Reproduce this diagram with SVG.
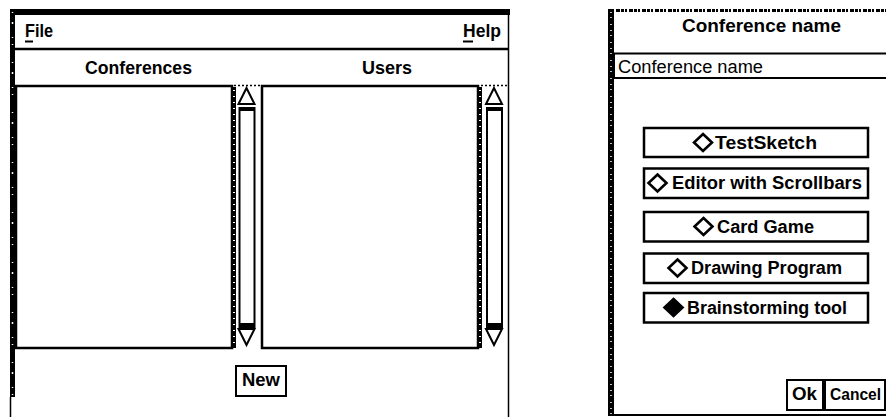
<svg xmlns="http://www.w3.org/2000/svg" width="886" height="417" viewBox="0 0 886 417">
<defs>
<style>
.b{font-family:"Liberation Sans",Arial,sans-serif;font-weight:bold;font-size:18px;fill:#000}
.r{font-family:"Liberation Sans",Arial,sans-serif;font-size:17.5px;fill:#000}
.box{fill:#fff;stroke:#000;stroke-width:2.5}
.ln{stroke:#000;stroke-width:2;fill:none}
.speck{stroke:#fff;stroke-width:1.5;stroke-dasharray:1 9 2 13 1 6 1 17}
.serr{stroke:#fff;stroke-width:2;stroke-dasharray:1 5}
.dot{stroke:#000;stroke-width:1.5;stroke-dasharray:2 2}
.dia{fill:#fff;stroke:#000;stroke-width:2.6}
</style>
</defs>
<rect width="886" height="417" fill="#fff"/>

<g id="main-window">
  <rect x="10" y="9" width="500" height="6" fill="#000"/>
  <rect x="10" y="9" width="5" height="388" fill="#000"/>
  <line x1="12.5" y1="12" x2="12.5" y2="397" class="speck"/>
  <line x1="10.5" y1="397" x2="10.5" y2="417" class="ln" style="stroke-width:1.5"/>
  <line x1="508.5" y1="9" x2="508.5" y2="417" class="ln" style="stroke-width:1.5"/>
  <line x1="15" y1="49" x2="509" y2="49" class="ln" style="stroke-width:2.5"/>
</g>

<g id="menu-file">
  <text x="25" y="37" class="b" textLength="28" lengthAdjust="spacingAndGlyphs">File</text>
  <line x1="25" y1="41.5" x2="33" y2="41.5" class="ln"/>
</g>
<g id="menu-help">
  <text x="463" y="37" class="b" textLength="38" lengthAdjust="spacingAndGlyphs">Help</text>
  <line x1="463" y1="41.5" x2="473" y2="41.5" class="ln"/>
</g>

<g id="header-conferences">
  <text x="85" y="74" class="b" textLength="107" lengthAdjust="spacingAndGlyphs">Conferences</text>
</g>
<g id="header-users">
  <text x="362" y="74" class="b" textLength="50" lengthAdjust="spacingAndGlyphs">Users</text>
</g>

<g id="conferences-list">
  <rect x="16" y="86" width="216" height="262" class="box"/>
</g>

<g id="conferences-scrollbar">
  <line x1="234" y1="85.5" x2="261" y2="85.5" class="dot"/>
  <rect x="232" y="87" width="4" height="261" fill="#000"/>
  <line x1="234" y1="90" x2="234" y2="348" class="serr"/>
  <polygon points="246.5,88 238.5,104 254.5,104" class="dia" style="stroke-width:2"/>
  <rect x="239.5" y="108" width="15" height="219" class="box" style="stroke-width:2"/>
  <rect x="239" y="107" width="16" height="4" fill="#000"/>
  <rect x="239" y="323" width="16" height="5" fill="#000"/>
  <polygon points="238.5,329 254.5,329 246.5,345" class="dia" style="stroke-width:2"/>
</g>

<g id="users-list">
  <rect x="262" y="86" width="216" height="262" class="box"/>
</g>

<g id="users-scrollbar">
  <line x1="481" y1="85.5" x2="508" y2="85.5" class="dot"/>
  <rect x="478" y="87" width="4" height="261" fill="#000"/>
  <line x1="480" y1="90" x2="480" y2="348" class="serr"/>
  <polygon points="494,88 486,104 502,104" class="dia" style="stroke-width:2"/>
  <rect x="487" y="108" width="15" height="219" class="box" style="stroke-width:2"/>
  <rect x="486.5" y="107" width="16" height="4" fill="#000"/>
  <rect x="486.5" y="323" width="16" height="5" fill="#000"/>
  <polygon points="486,329 502,329 494,345" class="dia" style="stroke-width:2"/>
</g>

<g id="new-button">
  <rect x="236" y="366" width="50" height="30" class="box" style="stroke-width:2"/>
  <text x="242" y="386" class="b" textLength="38" lengthAdjust="spacingAndGlyphs">New</text>
</g>

<g id="dialog">
  <rect x="608" y="9" width="6" height="407" fill="#000"/>
  <line x1="611" y1="12" x2="611" y2="414" class="speck" style="stroke-dasharray:1 4 1 6 1 5"/>
  <line x1="608" y1="10.5" x2="886" y2="10.5" class="ln" style="stroke-width:3;stroke-dasharray:3 1 2 2 4 1"/>
  <line x1="608" y1="415" x2="886" y2="415" class="ln"/>
</g>

<g id="dialog-title">
  <text x="682" y="32" class="b" textLength="159" lengthAdjust="spacingAndGlyphs">Conference name</text>
</g>

<g id="name-field">
  <rect x="614" y="53.5" width="280" height="24.5" class="box" style="stroke-width:2"/>
  <text x="618" y="73" class="r" textLength="145" lengthAdjust="spacingAndGlyphs">Conference name</text>
</g>

<g id="opt-testsketch">
  <rect x="644" y="128" width="224" height="29" class="box"/>
  <polygon points="703,134 712,142.5 703,151 694,142.5" class="dia"/>
  <text x="715" y="148.5" class="b" textLength="102" lengthAdjust="spacingAndGlyphs">TestSketch</text>
</g>

<g id="opt-editor">
  <rect x="644" y="168.5" width="224" height="29.5" class="box"/>
  <polygon points="657.5,174.5 666.5,183 657.5,191.5 648.5,183" class="dia"/>
  <text x="672" y="189" class="b" textLength="190" lengthAdjust="spacingAndGlyphs">Editor with Scrollbars</text>
</g>

<g id="opt-cardgame">
  <rect x="644" y="212" width="224" height="29.5" class="box"/>
  <polygon points="703.5,218 712.5,226.5 703.5,235 694.5,226.5" class="dia"/>
  <text x="717" y="232.5" class="b" textLength="97" lengthAdjust="spacingAndGlyphs">Card Game</text>
</g>

<g id="opt-drawing">
  <rect x="644" y="253.5" width="224" height="29.5" class="box"/>
  <polygon points="677.5,259.5 686.5,268 677.5,276.5 668.5,268" class="dia"/>
  <text x="691" y="274" class="b" textLength="151" lengthAdjust="spacingAndGlyphs">Drawing Program</text>
</g>

<g id="opt-brainstorming">
  <rect x="644" y="293" width="224" height="29.5" class="box"/>
  <polygon points="673.5,299 682.5,307.5 673.5,316 664.5,307.5" class="dia" style="fill:#000"/>
  <text x="687" y="313.5" class="b" textLength="160" lengthAdjust="spacingAndGlyphs">Brainstorming tool</text>
</g>

<g id="ok-button">
  <rect x="787" y="380" width="36" height="30" class="box" style="stroke-width:2"/>
  <text x="792" y="400" class="b" textLength="25" lengthAdjust="spacingAndGlyphs">Ok</text>
</g>
<g id="cancel-button">
  <rect x="825" y="380" width="60" height="30" class="box" style="stroke-width:2"/>
  <text x="830" y="400" class="b" style="font-size:16px" textLength="51" lengthAdjust="spacingAndGlyphs">Cancel</text>
</g>
</svg>
